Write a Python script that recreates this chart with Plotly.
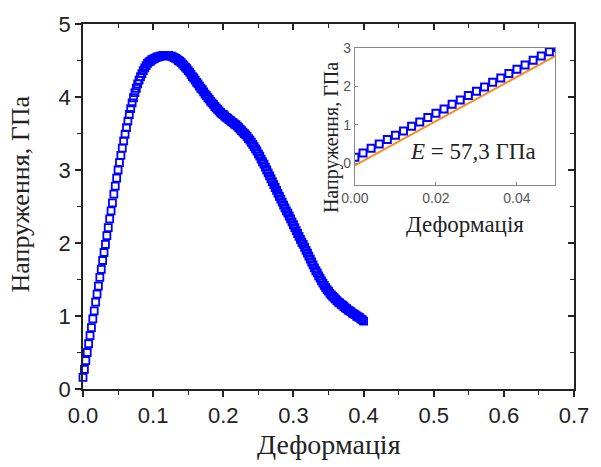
import plotly.graph_objects as go

# ---- data ----
strain = [round(i * 0.002, 3) for i in range(201)]
stress = [
    0.16, 0.27, 0.39, 0.50, 0.62, 0.73, 0.84, 0.96, 1.07, 1.19,
    1.30, 1.41, 1.53, 1.64, 1.76, 1.87, 1.98, 2.10, 2.21, 2.33,
    2.44, 2.55, 2.67, 2.78, 2.89, 3.00, 3.10, 3.20, 3.30, 3.40,
    3.49, 3.58, 3.67, 3.76, 3.84, 3.92, 3.99, 4.06, 4.12, 4.18,
    4.23, 4.28, 4.32, 4.36, 4.40, 4.43, 4.46, 4.48, 4.49, 4.51,
    4.52, 4.53, 4.54, 4.55, 4.55, 4.56, 4.56, 4.57, 4.57, 4.57,
    4.57, 4.57, 4.56, 4.56, 4.55, 4.54, 4.53, 4.52, 4.50, 4.49,
    4.47, 4.45, 4.43, 4.41, 4.39, 4.36, 4.34, 4.31, 4.28, 4.26,
    4.23, 4.20, 4.18, 4.15, 4.12, 4.10, 4.07, 4.04, 4.02, 3.99,
    3.97, 3.94, 3.92, 3.90, 3.87, 3.85, 3.83, 3.81, 3.79, 3.77,
    3.76, 3.74, 3.72, 3.71, 3.69, 3.68, 3.66, 3.65, 3.63, 3.62,
    3.60, 3.58, 3.56, 3.54, 3.52, 3.50, 3.48, 3.46, 3.43, 3.41,
    3.38, 3.35, 3.32, 3.29, 3.26, 3.22, 3.19, 3.15, 3.11, 3.08,
    3.04, 3.00, 2.96, 2.92, 2.88, 2.84, 2.80, 2.76, 2.72, 2.68,
    2.64, 2.60, 2.56, 2.52, 2.48, 2.44, 2.41, 2.37, 2.33, 2.29,
    2.25, 2.21, 2.17, 2.13, 2.09, 2.05, 2.01, 1.98, 1.94, 1.90,
    1.86, 1.82, 1.78, 1.74, 1.70, 1.66, 1.62, 1.59, 1.55, 1.52,
    1.48, 1.45, 1.42, 1.39, 1.36, 1.34, 1.31, 1.29, 1.27, 1.25,
    1.23, 1.21, 1.19, 1.18, 1.16, 1.15, 1.13, 1.11, 1.10, 1.08,
    1.07, 1.06, 1.04, 1.03, 1.02, 1.00, 0.99, 0.98, 0.96, 0.95,
    0.93,
]
E_modulus = 57.3          # GPa
fit_intercept = -0.05     # GPa
fit_strain = [0.0, 0.05]
fit_stress = [E_modulus * e + fit_intercept for e in fit_strain]

inset_strain = [e for e in strain if e <= 0.05]
inset_stress = stress[:len(inset_strain)]

main_xticks = [0.0, 0.1, 0.2, 0.3, 0.4, 0.5, 0.6, 0.7]
main_yticks = [0, 1, 2, 3, 4, 5]
inset_xticks = [0.00, 0.02, 0.04]
inset_yticks = [0, 1, 2, 3]

BLUE = "#0000ff"
SANS = "Liberation Sans, Arial, sans-serif"
SERIF = "Liberation Serif, Times New Roman, serif"

fig = go.Figure()
fig.add_trace(go.Scatter(
    x=strain, y=stress, mode="markers", xaxis="x", yaxis="y",
    marker=dict(symbol="square-open", size=7, color=BLUE, line=dict(width=1.8, color=BLUE)),
    cliponaxis=False, showlegend=False, hoverinfo="skip"))
fig.add_trace(go.Scatter(
    x=fit_strain, y=fit_stress, mode="lines", xaxis="x2", yaxis="y2",
    line=dict(color="#ff8c1a", width=2), showlegend=False, hoverinfo="skip"))
fig.add_trace(go.Scatter(
    x=inset_strain, y=inset_stress, mode="markers", xaxis="x2", yaxis="y2",
    marker=dict(symbol="square-open", size=7, color=BLUE, line=dict(width=2, color=BLUE)),
    showlegend=False, hoverinfo="skip"))
# invisible helper trace so mirrored tick axes are drawn
fig.add_trace(go.Scatter(x=[0], y=[0], xaxis="x3", yaxis="y3", mode="markers",
                         marker=dict(opacity=0), showlegend=False, hoverinfo="skip"))

main_ax = dict(showline=True, linecolor="#222", linewidth=1.5, showgrid=False,
               zeroline=False, ticks="outside", ticklen=6, tickwidth=1.5, tickcolor="#222",
               tickfont=dict(family=SANS, size=22, color="#222"))
fig.update_layout(
    width=601, height=467,
    margin=dict(l=83, r=16, t=18, b=78),
    paper_bgcolor="white", plot_bgcolor="white",
    xaxis=dict(domain=[0, 1], range=[0, 0.7], tickvals=main_xticks,
               ticktext=[f"{v:.1f}" for v in main_xticks], anchor="y",
               minor=dict(dtick=0.05, tick0=0, ticks="outside", ticklen=4, tickwidth=1.2, tickcolor="#222"),
               **main_ax),
    yaxis=dict(domain=[0, 1], range=[0, 5], tickvals=main_yticks,
               ticktext=[str(v) for v in main_yticks], anchor="x",
               minor=dict(dtick=0.5, tick0=0, ticks="outside", ticklen=4, tickwidth=1.2, tickcolor="#222"),
               **main_ax),
    xaxis3=dict(overlaying="x", side="top", anchor="y3", range=[0, 0.7], showline=True,
                linecolor="#222", linewidth=1.5, showgrid=False, zeroline=False,
                ticks="inside", tickvals=main_xticks, ticklen=6, tickwidth=1.5, tickcolor="#222",
                minor=dict(dtick=0.05, tick0=0, ticks="inside", ticklen=4, tickwidth=1.2, tickcolor="#222"),
                showticklabels=False),
    yaxis3=dict(overlaying="y", side="right", anchor="x3", range=[0, 5], showline=True,
                linecolor="#222", linewidth=1.5, showgrid=False, zeroline=False,
                ticks="inside", tickvals=main_yticks, ticklen=6, tickwidth=1.5, tickcolor="#222",
                minor=dict(dtick=0.5, tick0=0, ticks="inside", ticklen=4, tickwidth=1.2, tickcolor="#222"),
                showticklabels=False),
    xaxis2=dict(domain=[0.5538, 0.9622], range=[0, 0.0495], anchor="y2",
                tickvals=inset_xticks, ticktext=[f"{v:.2f}" for v in inset_xticks],
                showline=True, mirror=True, linecolor="#888", linewidth=1.2,
                showgrid=False, zeroline=False, ticks="inside", ticklen=3, tickcolor="#888",
                tickfont=dict(family=SANS, size=14, color="#555")),
    yaxis2=dict(domain=[0.558, 0.9353], range=[-0.57, 3.0], anchor="x2",
                tickvals=inset_yticks, ticktext=[str(v) for v in inset_yticks],
                showline=True, mirror=True, linecolor="#888", linewidth=1.2,
                showgrid=False, zeroline=False, ticks="inside", ticklen=3, tickcolor="#888",
                tickfont=dict(family=SANS, size=14, color="#555")),
    annotations=[
        dict(text="Деформація", xref="paper", yref="paper", x=0.500, y=-0.152,
             showarrow=False, font=dict(family=SERIF, size=28, color="#222"),
             xanchor="center", yanchor="middle"),
        dict(text="Напруження, ГПа", xref="paper", yref="paper", x=-0.1275, y=0.534,
             textangle=-90, showarrow=False, font=dict(family=SERIF, size=26, color="#222"),
             xanchor="center", yanchor="middle"),
        dict(text="Деформація", xref="paper", yref="paper", x=0.777, y=0.452,
             showarrow=False, font=dict(family=SERIF, size=23, color="#222"),
             xanchor="center", yanchor="middle"),
        dict(text="Напруження, ГПа", xref="paper", yref="paper", x=0.505, y=0.690,
             textangle=-90, showarrow=False, font=dict(family=SERIF, size=20, color="#222"),
             xanchor="center", yanchor="middle"),
        dict(text=f"<i>E</i> = {str(E_modulus).replace('.', ',')} ГПа", xref="paper", yref="paper",
             x=0.795, y=0.652, showarrow=False, font=dict(family=SERIF, size=23, color="#222"),
             xanchor="center", yanchor="middle"),
    ],
)

fig.write_html("out.html")
